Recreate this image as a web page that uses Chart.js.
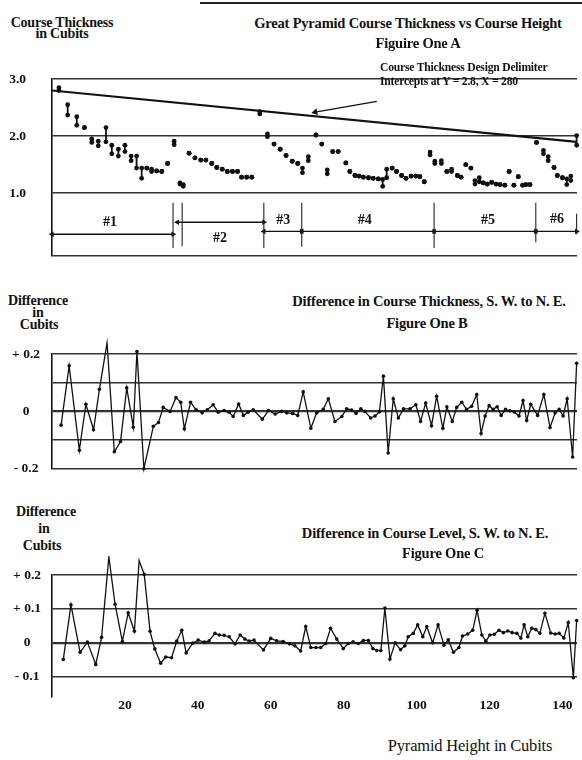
<!DOCTYPE html>
<html>
<head>
<meta charset="utf-8">
<script src="https://cdn.jsdelivr.net/npm/chart.js@4.4.1/dist/chart.umd.min.js"></script>
<style>
  body { margin: 0; background: #fff; }
  #page { position: relative; width: 582px; height: 760px; overflow: hidden;
          font-family: "Liberation Serif", "DejaVu Serif", serif; color: #111; }
  canvas { position: absolute; left: 0; }
  .t { position: absolute; transform: translate(-50%, -50%); white-space: nowrap;
       font-weight: bold; font-size: 14.5px; line-height: 1; letter-spacing: -0.2px; }
  .l { position: absolute; transform: translateY(-50%); white-space: nowrap;
       font-weight: bold; font-size: 11.6px; line-height: 1; letter-spacing: -0.2px; }
  .rule { position: absolute; left: 200px; top: 2px; width: 382px; height: 2px; background: #222; }
</style>
</head>
<body>
<div id="page">
  <div class="rule"></div>

  <canvas id="chartA" width="582" height="245" style="top:45px"></canvas>
  <canvas id="chartB" width="582" height="168" style="top:334px"></canvas>
  <canvas id="chartC" width="582" height="164" style="top:556px"></canvas>

  <div class="t" style="left:62px;top:23px;font-size:14px">Course Thickness</div>
  <div class="t" style="left:62px;top:34px;font-size:14px">in Cubits</div>
  <div class="t" style="left:408px;top:23px">Great Pyramid Course Thickness vs Course Height</div>
  <div class="t" style="left:418px;top:43px">Figuire One A</div>
  <div class="l" style="left:380px;top:68px">Course Thickness Design Delimiter</div>
  <div class="l" style="left:380px;top:82px">Intercepts at Y = 2.8, X = 280</div>

  <div class="t" style="left:38px;top:301px;font-size:14px">Difference</div>
  <div class="t" style="left:38px;top:313px;font-size:14px">in</div>
  <div class="t" style="left:39px;top:325px;font-size:14px">Cubits</div>
  <div class="t" style="left:429px;top:301px">Difference in Course Thickness, S. W. to N. E.</div>
  <div class="t" style="left:427px;top:323px">Figure One B</div>

  <div class="t" style="left:46px;top:512px;font-size:14px">Difference</div>
  <div class="t" style="left:44px;top:529px;font-size:14px">in</div>
  <div class="t" style="left:42px;top:546px;font-size:14px">Cubits</div>
  <div class="t" style="left:425px;top:533px">Difference in Course Level, S. W. to N. E.</div>
  <div class="t" style="left:443px;top:553px">Figure One C</div>

  <div class="t" style="left:470px;top:746px;font-weight:normal;font-size:16.5px">Pyramid Height in Cubits</div>
</div>

<script>
const SERIF = '"Liberation Serif", "DejaVu Serif", serif';
const INK = "#111";
const GRID = "#333";

// Figure One A - course thickness (min..max of the four faces) by height
const courseHeight = [1.9, 4.3, 6.8, 8.9, 10.9, 12.7, 14.8, 16.4, 18.2, 20.0, 21.7, 23.2, 24.6, 26.0, 27.3, 28.7, 30.1, 31.7, 33.5, 35.1,
    36.0, 37.6, 39.2, 40.8, 42.2, 43.8, 45.2, 46.7, 48.1, 49.5, 50.9, 52.0, 53.4, 54.8, 57.0, 59.1, 60.9, 62.6, 64.2, 65.9,
    67.4, 68.7, 70.3, 72.4, 74.0, 75.5, 77.0, 78.5, 80.6, 81.7, 83.1, 84.2, 85.4, 86.8, 88.1, 89.5, 90.7, 91.8, 93.3, 94.5,
    95.9, 97.1, 98.5, 99.8, 100.9, 102.1, 103.7, 105.0, 106.8, 108.3, 109.6, 111.2, 112.2, 113.5, 114.9, 116.0, 117.2, 118.3, 119.4, 120.6,
    121.8, 122.9, 124.2, 125.4, 126.7, 127.9, 129.1, 130.0, 131.1, 132.9, 134.8, 136.1, 137.7, 138.6, 140.0, 141.2, 142.3, 143.9];
const courseMax = [2.85, 2.55, 2.34, 2.15, 1.95, 1.91, 2.15, 1.84, 1.77, 1.84, 1.65, 1.65, 1.44, 1.44, 1.42, 1.39, 1.38, 1.52, 1.91, 1.18,
    1.15, 1.70, 1.62, 1.58, 1.58, 1.52, 1.45, 1.42, 1.38, 1.38, 1.38, 1.28, 1.28, 1.28, 2.43, 2.04, 1.86, 1.77, 1.66, 1.56,
    1.52, 1.44, 1.64, 2.02, 1.86, 1.41, 1.73, 1.73, 1.53, 1.38, 1.31, 1.30, 1.28, 1.27, 1.26, 1.25, 1.24, 1.42, 1.44, 1.38,
    1.31, 1.26, 1.30, 1.30, 1.29, 1.20, 1.72, 1.56, 1.57, 1.38, 1.42, 1.31, 1.28, 1.50, 1.44, 1.22, 1.27, 1.18, 1.16, 1.19,
    1.16, 1.15, 1.14, 1.38, 1.14, 1.29, 1.14, 1.15, 1.15, 1.89, 1.75, 1.64, 1.45, 1.31, 1.27, 1.25, 1.30, 2.01];
const courseMin = [2.80, 2.37, 2.19, 2.15, 1.89, 1.83, 1.90, 1.69, 1.65, 1.73, 1.57, 1.44, 1.26, 1.44, 1.38, 1.39, 1.38, 1.52, 1.85, 1.16,
    1.12, 1.70, 1.62, 1.58, 1.58, 1.52, 1.45, 1.42, 1.38, 1.38, 1.38, 1.28, 1.28, 1.28, 2.39, 1.99, 1.86, 1.77, 1.66, 1.56,
    1.52, 1.36, 1.57, 2.02, 1.86, 1.34, 1.73, 1.73, 1.53, 1.38, 1.31, 1.30, 1.28, 1.27, 1.26, 1.25, 1.12, 1.27, 1.44, 1.38,
    1.31, 1.26, 1.30, 1.30, 1.29, 1.20, 1.67, 1.52, 1.52, 1.38, 1.38, 1.31, 1.28, 1.50, 1.44, 1.16, 1.20, 1.18, 1.16, 1.19,
    1.16, 1.15, 1.14, 1.38, 1.14, 1.29, 1.14, 1.15, 1.15, 1.89, 1.69, 1.57, 1.45, 1.31, 1.27, 1.15, 1.22, 1.84];
const delimiterX = [0, 143.9];
const delimiterY = [2.8, 1.9];
const pointerX = [89.1, 72.2];
const pointerY = [2.61, 2.42];
const thicknessTicks = [-0.1, 1, 2, 3];
const thicknessTickLabels = ["", "1.0", "2.0", "3.0"];

// design sections marked under Figure One A
const sectionNames = ["#1", "#2", "#3", "#4", "#5", "#6"];
const sectionStart = [0, 34.4, 58.1, 68.5, 104.8, 132.7];
const sectionEnd = [33.2, 58.1, 68.5, 104.8, 132.7, 143.9];
const sectionArrowY = [0.28, 0.49, 0.33, 0.33, 0.33, 0.33];
const sectionLabelX = [15.9, 46.1, 63.4, 85.8, 119.6, 138.5];
const sectionLabelY = [0.49, 0.21, 0.52, 0.52, 0.53, 0.54];
const boundaryX = [33.2, 35.7, 58.1, 68.5, 104.8, 132.7, 143.9];
const boundaryLow = [0.04, 0.07, 0.04, 0.06, 0.04, 0.14, 0.28];
const boundaryHigh = [0.83, 0.83, 0.83, 0.83, 0.83, 0.83, 0.64];

// Figure One B - difference in course thickness, S.W. to N.E.
const thickDiffHeight = [2.5, 4.7, 7.5, 9.3, 11.4, 13.0, 15.1, 17.1, 18.8, 20.5, 22.3, 23.3, 25.2, 27.8, 29.2, 30.5, 32.4, 34.0, 35.3, 36.3,
    38.0, 39.5, 41.2, 42.6, 44.2, 45.6, 47.2, 48.6, 49.7, 51.2, 52.5, 53.8, 55.2, 57.7, 59.4, 61.2, 63.0, 64.4, 66.0, 67.4,
    68.9, 71.0, 72.6, 74.4, 75.8, 77.6, 79.5, 80.8, 82.2, 83.4, 84.7, 85.8, 87.4, 88.6, 89.8, 90.9, 92.2, 93.6, 95.0, 96.4,
    98.2, 99.8, 101.1, 102.5, 104.1, 105.5, 107.2, 108.3, 109.8, 111.0, 112.4, 113.7, 115.1, 116.5, 117.7, 118.8, 119.9, 121.0, 122.1, 123.2,
    124.4, 125.6, 126.8, 128.1, 129.2, 130.2, 131.3, 133.2, 134.9, 136.6, 138.0, 139.1, 140.2, 141.3, 142.8, 143.9];
const thickDiffValue = [-0.048, 0.159, -0.136, 0.025, -0.064, 0.077, 0.239, -0.141, -0.105, 0.082, -0.055, 0.209, -0.2, -0.052, -0.039, 0.014, 0, 0.048, 0.032, -0.061,
    0.032, 0.006, -0.005, 0.006, 0.023, -0.003, 0.003, -0.003, -0.018, 0.026, -0.014, -0.003, 0.006, -0.027, 0.003, -0.009, 0, -0.005, -0.007, -0.014,
    0.068, -0.059, -0.005, 0.007, 0.044, -0.035, -0.018, 0.009, 0.005, -0.007, 0.009, 0, -0.023, -0.016, -0.002, 0.123, -0.145, 0.044, -0.023, 0.009,
    0.009, 0.023, -0.035, 0.029, -0.05, 0.053, -0.059, 0.016, -0.035, 0.014, 0.032, 0.007, 0.018, 0.059, -0.077, -0.016, 0.02, 0.007, 0.016, -0.014,
    0.007, 0.002, -0.002, -0.016, 0.038, -0.032, 0.025, -0.014, 0.059, -0.056, -0.005, 0.007, -0.016, 0.044, -0.159, 0.168];
const thickDiffTicks = [-0.2, -0.1, 0, 0.1, 0.2];
const thickDiffTickLabels = ["- 0.2", "", "0", "", "+ 0.2"];

// Figure One C - difference in course level, S.W. to N.E.
const levelDiffHeight = [3.1, 5.2, 7.7, 9.7, 12.0, 13.6, 15.6, 17.3, 19.3, 20.9, 22.6, 23.9, 25.3, 26.9, 28.2, 29.8, 31.2, 32.8, 34.2, 35.6,
    36.8, 38.6, 40.1, 41.8, 43.1, 44.7, 45.9, 47.2, 48.6, 50.2, 51.6, 52.9, 54.1, 55.4, 58.0, 60.0, 61.6, 63.4, 65.1, 66.6,
    68.2, 69.6, 71.0, 72.4, 73.7, 75.1, 76.4, 78.1, 79.9, 81.3, 82.6, 84.0, 85.4, 86.8, 88.0, 89.1, 90.2, 91.3, 92.7, 94.1,
    95.6, 96.8, 97.7, 99.1, 100.3, 101.7, 102.8, 104.4, 105.9, 107.5, 108.7, 110.1, 111.6, 112.6, 114.0, 115.4, 116.6, 117.9, 119.0, 120.1,
    121.3, 122.6, 123.8, 125.0, 126.2, 127.5, 128.6, 129.5, 130.5, 131.6, 132.7, 133.8, 135.2, 136.8, 138.0, 139.1, 140.4, 141.6, 143.0, 143.9];
const levelDiffValue = [-0.049, 0.112, -0.028, 0.002, -0.064, 0.016, 0.254, 0.114, 0.004, 0.089, 0.034, 0.243, 0.202, 0.034, -0.018, -0.06, -0.042, -0.044, 0.005, 0.037,
    -0.03, -0.001, 0.008, 0.002, 0.006, 0.028, 0.023, 0.022, 0.018, -0.003, 0.023, 0.011, 0.005, 0.008, -0.021, 0.013, 0.006, 0.004, -0.003, -0.009,
    -0.024, 0.048, -0.014, -0.014, -0.014, -0.002, 0.043, 0.011, -0.017, -0.002, 0.003, -0.002, 0.007, 0.007, -0.017, -0.023, -0.023, 0.103, -0.048, 0,
    -0.02, -0.009, 0.018, 0.028, 0.053, 0.018, 0.048, 0, 0.053, -0.007, 0.009, -0.028, -0.014, 0.02, 0.026, 0.037, 0.096, 0.023, 0.005, 0.023,
    0.025, 0.037, 0.03, 0.035, 0.03, 0.028, 0.014, 0.053, 0.018, 0.043, 0.039, 0.028, 0.087, 0.029, 0.026, 0.028, 0.014, 0.06, -0.103, 0.066];
const levelDiffTicks = [-0.1, 0, 0.1, 0.2];
const levelDiffTickLabels = ["- 0.1", "0", "+ 0.1", "+ 0.2"];

const heightTicks = [20, 40, 60, 80, 100, 120, 140];

const tickFont = { family: SERIF, size: 13.5, weight: "bold" };

// vertical strokes x: lo..hi, kept apart by a null so the line breaks between them
function verticalStrokes(xs, lows, highs) {
    return xs.flatMap((x, i) => [{ x, y: lows[i] }, { x, y: highs[i] }, { x, y: null }]);
}

function xAxis(showLabels) {
    return {
        type: "linear",
        min: 0,
        max: 144,
        display: showLabels,
        grid: { display: false, drawTicks: false },
        border: { display: false },
        afterBuildTicks(axis) {
            axis.ticks = heightTicks.map((value) => ({ value }));
        },
        afterFit(axis) {
            axis.height = 23;
        },
        ticks: { font: tickFont, color: INK, padding: 0, autoSkip: false, maxRotation: 0 }
    };
}

function yAxis(min, max, tickValues, tickLabels, padding) {
    return {
        type: "linear",
        min,
        max,
        afterBuildTicks(axis) {
            axis.ticks = tickValues.map((value) => ({ value }));
        },
        afterFit(axis) {
            axis.width = 52;
        },
        grid: {
            drawTicks: false,
            color: GRID,
            lineWidth: (ctx) => (ctx.tick && ctx.tick.value === 0 ? 2.2 : 1.4)
        },
        border: { display: true, color: INK, width: 1.6 },
        ticks: {
            font: tickFont,
            color: INK,
            padding,
            crossAlign: "center",
            callback: (value, index) => tickLabels[index]
        }
    };
}

const baseOptions = {
    responsive: false,
    animation: false,
    events: [],
    plugins: { legend: { display: false }, tooltip: { enabled: false } }
};

// "#n" section captions sit inside the plot, placed through the scales
const sectionLabels = {
    id: "sectionLabels",
    afterDatasetsDraw(chart) {
        const { ctx, scales: { x, y } } = chart;
        ctx.save();
        ctx.font = `bold 14px ${SERIF}`;
        ctx.fillStyle = INK;
        ctx.textAlign = "center";
        ctx.textBaseline = "middle";
        sectionNames.forEach((name, i) => {
            ctx.fillText(name, x.getPixelForValue(sectionLabelX[i]), y.getPixelForValue(sectionLabelY[i]));
        });
        ctx.restore();
    }
};

const arrowSets = sectionNames.map((name, i) => ({
    type: "line",
    label: name,
    data: [{ x: sectionStart[i], y: sectionArrowY[i] }, { x: sectionEnd[i], y: sectionArrowY[i] }],
    borderColor: INK,
    borderWidth: 1.3,
    pointStyle: "triangle",
    pointRadius: 3.2,
    pointRotation: [270, 90],
    pointBackgroundColor: INK,
    pointBorderWidth: 0,
    clip: false
}));

new Chart(document.getElementById("chartA"), {
    type: "scatter",
    data: {
        datasets: [
            {
                type: "line",
                label: "delimiter",
                data: delimiterX.map((x, i) => ({ x, y: delimiterY[i] })),
                borderColor: INK,
                borderWidth: 2.2,
                pointRadius: 0
            },
            {
                type: "line",
                label: "pointer",
                data: pointerX.map((x, i) => ({ x, y: pointerY[i] })),
                borderColor: INK,
                borderWidth: 1.3,
                pointStyle: "triangle",
                pointRadius: [0, 4],
                pointRotation: 257,
                pointBackgroundColor: INK,
                pointBorderWidth: 0
            },
            {
                type: "line",
                label: "range",
                data: verticalStrokes(courseHeight, courseMin, courseMax),
                borderColor: INK,
                borderWidth: 1.8,
                pointRadius: 0,
                spanGaps: false,
                clip: false
            },
            {
                label: "courses",
                data: courseHeight.flatMap((x, i) => [{ x, y: courseMax[i] }, { x, y: courseMin[i] }]),
                pointRadius: 2.4,
                pointBackgroundColor: INK,
                pointBorderWidth: 0,
                clip: false
            },
            {
                type: "line",
                label: "sections",
                data: verticalStrokes(boundaryX, boundaryLow, boundaryHigh),
                borderColor: "#222",
                borderWidth: 1.1,
                pointRadius: 0,
                spanGaps: false,
                clip: false
            },
            ...arrowSets
        ]
    },
    options: {
        ...baseOptions,
        layout: { padding: { top: 10.5, bottom: 11, left: 0, right: 5 } },
        scales: {
            x: xAxis(false),
            y: yAxis(-0.1, 3, thicknessTicks, thicknessTickLabels, 26)
        }
    },
    plugins: [sectionLabels]
});

new Chart(document.getElementById("chartB"), {
    type: "line",
    data: {
        datasets: [{
            data: thickDiffHeight.map((x, i) => ({ x, y: thickDiffValue[i] })),
            borderColor: INK,
            borderWidth: 1.3,
            pointRadius: 1.8,
            pointBackgroundColor: INK,
            pointBorderWidth: 0,
            clip: false
        }]
    },
    options: {
        ...baseOptions,
        layout: { padding: { top: 10.3, bottom: 10.3, left: 0, right: 5 } },
        scales: {
            x: xAxis(false),
            y: yAxis(-0.2, 0.2, thickDiffTicks, thickDiffTickLabels, 12)
        }
    }
});

new Chart(document.getElementById("chartC"), {
    type: "line",
    data: {
        datasets: [{
            data: levelDiffHeight.map((x, i) => ({ x, y: levelDiffValue[i] })),
            borderColor: INK,
            borderWidth: 1.3,
            pointRadius: 1.8,
            pointBackgroundColor: INK,
            pointBorderWidth: 0,
            clip: false
        }]
    },
    options: {
        ...baseOptions,
        layout: { padding: { top: 10.7, bottom: 0, left: 0, right: 5 } },
        scales: {
            x: xAxis(true),
            y: yAxis(-0.16, 0.2, levelDiffTicks, levelDiffTickLabels, 11)
        }
    }
});
</script>
</body>
</html>
